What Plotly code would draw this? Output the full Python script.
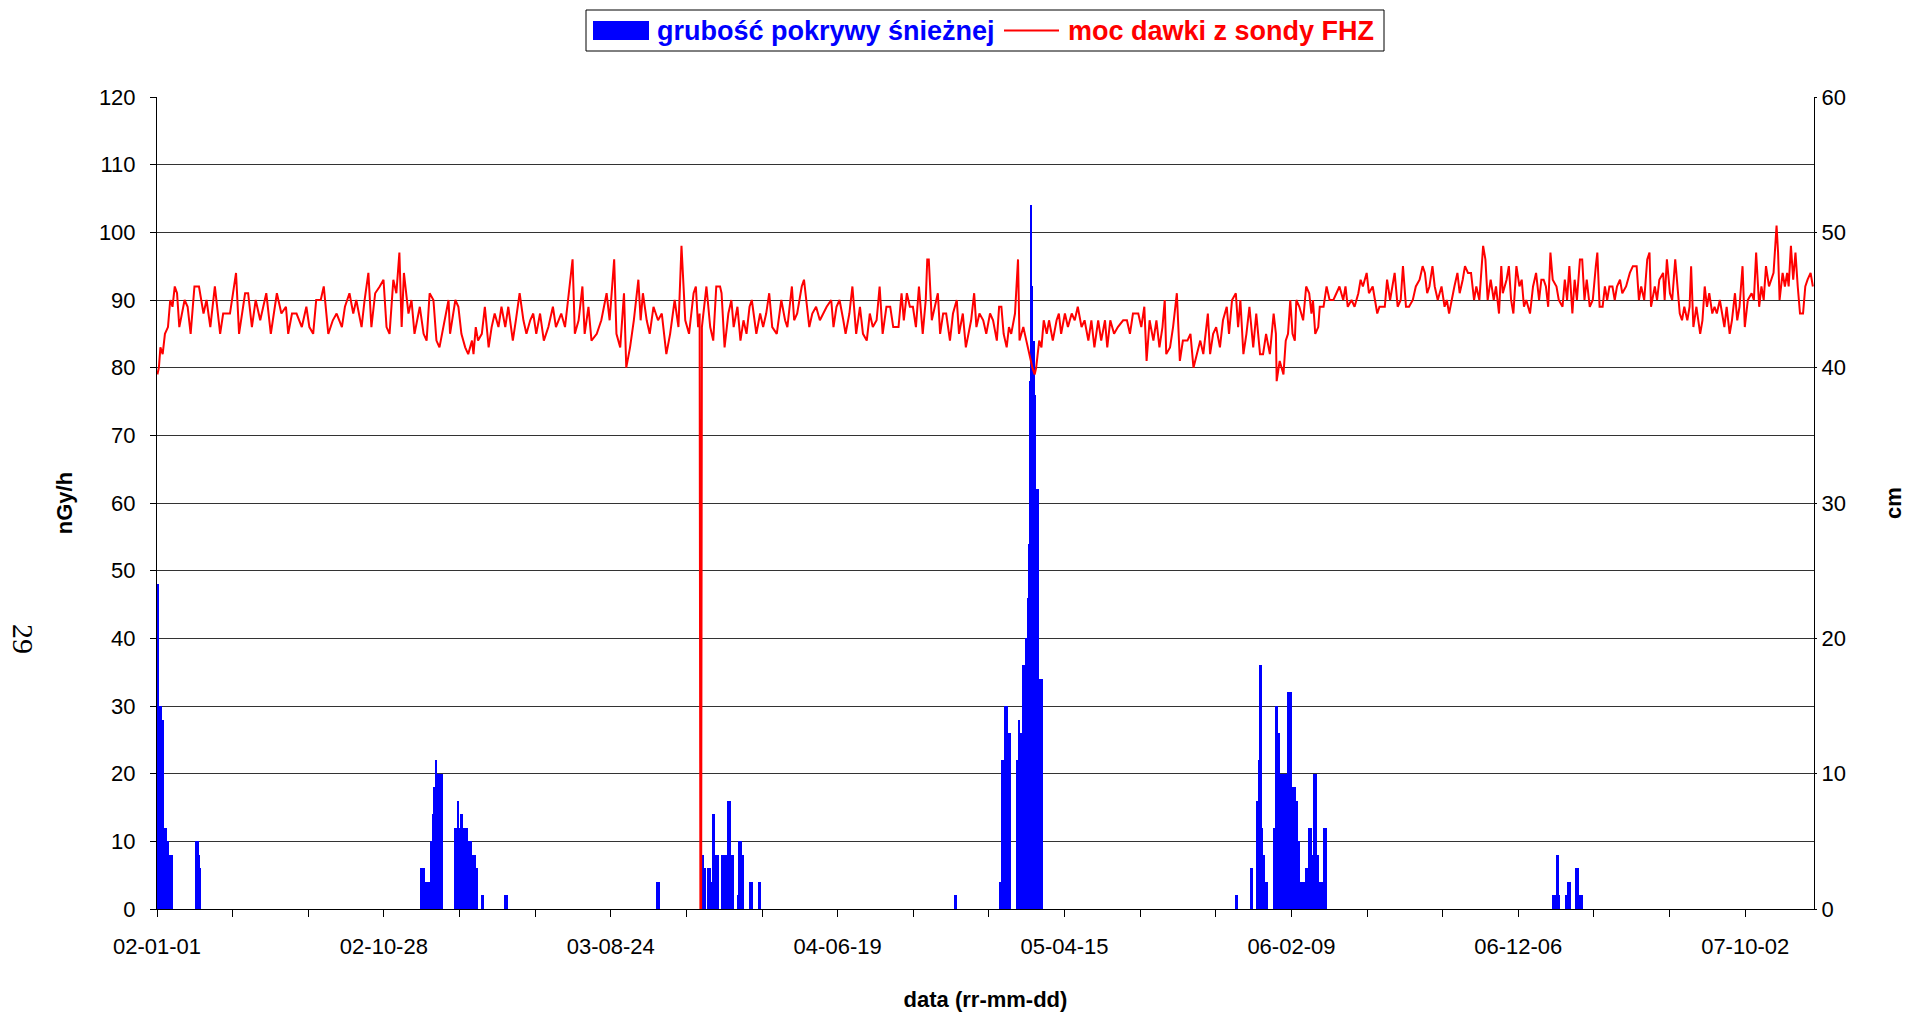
import pandas as pd
import plotly.graph_objects as go

START = pd.Timestamp("2002-01-01")

# dose rate from FHZ probe (nGy/h); days counted from 2002-01-01
dose_day = [
    0, 2, 4, 7, 10, 14, 17, 20, 23, 26, 29, 32, 36, 40, 44, 49, 55, 61, 65, 70, 76, 83, 87, 96, 100, 104, 108, 116, 120, 125,
    130, 136, 144, 150, 158, 164, 170, 173, 178, 184, 191, 197, 201, 206, 210, 216, 220, 226, 232, 237, 244, 248, 254, 259,
    263, 270, 274, 279, 283, 288, 294, 299, 303, 307, 312, 316, 320, 323, 326, 332, 336, 340, 347, 352, 356, 360, 365, 369, 373,
    380, 385, 387, 394, 398, 402, 407, 411, 416, 418, 421, 424, 429, 433, 438, 442, 446, 451, 455, 460, 464, 470, 474, 479,
    484, 488, 493, 497, 501, 506, 511, 517, 523, 527, 534, 539, 543, 549, 552, 557, 562, 565, 570, 574, 581, 587, 594, 598,
    604, 607, 612, 617, 620, 625, 630, 636, 639, 642, 647, 651, 656, 662, 667, 673, 678, 684, 689, 693, 698, 703, 709, 712,
    715, 717, 718, 719, 720, 726, 731, 735, 739, 744,
    746, 750, 755, 759, 762, 767, 771, 775, 779, 783, 786, 792, 797, 801, 805, 809, 813, 819, 825, 830, 833, 839, 842, 846,
    852, 855, 858, 862, 866, 871, 876, 880, 885, 891, 894, 898, 902, 907, 910, 915, 919, 924, 929, 933, 938, 942, 946, 951,
    955, 959, 964, 969, 973, 980, 984, 987, 991, 995, 999, 1003, 1007, 1012, 1016, 1018, 1020, 1024, 1028, 1032, 1035, 1039,
    1043, 1048, 1052, 1057, 1060, 1065, 1069, 1073, 1076, 1080, 1083, 1087, 1092, 1096, 1101, 1105, 1110, 1113,
    1116, 1119, 1123, 1126, 1129, 1134, 1138, 1140, 1145, 1149, 1153, 1157, 1160, 1162, 1166, 1169, 1172, 1176, 1179, 1184,
    1189, 1192, 1195, 1200, 1204, 1209, 1213, 1217, 1222, 1226, 1231, 1235, 1239, 1244, 1248, 1253, 1256, 1260, 1265, 1270,
    1277, 1282, 1286, 1290, 1297, 1301, 1305, 1308, 1312, 1317, 1321, 1325, 1329, 1332, 1334, 1339, 1343, 1348, 1352, 1356,
    1362, 1366, 1370, 1374, 1379, 1383, 1389, 1392, 1396, 1400, 1405, 1409, 1414, 1417, 1421, 1426, 1429, 1432, 1436, 1440,
    1444, 1449, 1453, 1458, 1462, 1466, 1471, 1476, 1479, 1480, 1484,
    1489, 1492, 1495, 1498, 1501, 1504, 1506, 1510, 1515, 1519, 1523, 1526, 1528, 1531, 1535, 1537, 1542, 1546, 1550, 1555,
    1559, 1563, 1568, 1571, 1574, 1579, 1583, 1588, 1591, 1594, 1599, 1602, 1607, 1610, 1613, 1616, 1623, 1626, 1630, 1633,
    1636, 1640, 1644, 1647, 1651, 1655, 1660, 1664, 1669, 1673, 1676, 1679, 1682, 1686, 1689, 1693, 1698, 1702, 1705, 1708,
    1711, 1715, 1719, 1722, 1726, 1729, 1733, 1737, 1741, 1744, 1748, 1751, 1753, 1756, 1759, 1763, 1767, 1770, 1774, 1777,
    1779, 1784, 1787, 1790, 1793, 1797, 1801, 1804, 1807, 1810, 1815, 1819, 1823, 1827, 1830, 1833, 1836, 1839, 1842, 1845,
    1850, 1853,
    1858, 1861, 1864, 1867, 1871, 1874, 1877, 1881, 1884, 1887, 1890, 1894, 1898, 1902, 1904, 1907, 1911, 1914, 1917, 1920,
    1924, 1927, 1930, 1934, 1937, 1942, 1947, 1951, 1956, 1959, 1962, 1966, 1970, 1973, 1975, 1980, 1983, 1986, 1991, 1993,
    1996, 2000, 2003, 2007, 2011, 2013, 2016, 2019, 2023, 2026, 2028, 2031, 2035, 2038, 2040, 2043, 2046, 2049, 2052, 2056,
    2059, 2062, 2066, 2069, 2072, 2075, 2079, 2082, 2086, 2089, 2092, 2096, 2099, 2103, 2108, 2111, 2114, 2118, 2121, 2124,
    2127, 2131, 2134, 2137, 2141, 2143, 2145, 2149, 2152, 2155, 2157, 2160, 2163, 2166, 2169, 2172, 2176, 2179, 2182, 2186, 2189,
]
dose_nGy = [
    79, 80, 83, 82, 85, 86, 90, 89, 92, 91, 86, 88, 90, 89, 85, 92, 92, 88, 90, 86, 92, 85, 88, 88, 91, 94, 85, 91, 91, 86,
    90, 87, 91, 85, 91, 88, 89, 85, 88, 88, 86, 89, 86, 85, 90, 90, 92, 85, 87, 88, 86, 89, 91, 88,
    90, 86, 90, 94, 86, 91, 92, 93, 86, 85, 93, 91, 97, 86, 94, 88, 90, 85, 89, 85, 84, 91, 90, 84, 83,
    87, 90, 85, 90, 89, 85, 83, 82, 84, 82, 86, 84, 85, 89, 83, 86, 88, 86, 89, 86, 89, 84, 87, 91,
    87, 85, 87, 88, 85, 88, 84, 86, 89, 86, 88, 86, 90, 96, 85, 87, 92, 85, 89, 84, 85, 87, 91, 87,
    96, 85, 83, 91, 80, 83, 87, 93, 87, 91, 87, 85, 89, 87, 88, 82, 85, 90, 86, 98, 87, 85, 91, 92,
    86, 88, 0, 0, 86, 92, 86, 84, 92, 92,
    91, 83, 88, 90, 86, 89, 84, 87, 85, 89, 90, 85, 88, 86, 88, 91, 86, 85, 90, 87, 86, 92, 87, 88,
    92, 93, 90, 86, 88, 89, 87, 88, 89, 90, 86, 89, 90, 87, 85, 88, 92, 85, 89, 85, 84, 88, 86, 87,
    92, 85, 89, 89, 86, 86, 91, 87, 91, 89, 89, 86, 92, 85, 90, 96, 96, 87, 89, 91, 85, 88,
    88, 84, 88, 90, 85, 88, 83, 85, 87, 91, 86, 88, 87, 85, 88, 87, 84, 89,
    89, 85, 83, 86, 85, 88, 96, 84, 86, 84, 82, 80, 79, 80, 84, 83, 87, 85, 87, 84,
    87, 88, 85, 88, 86, 88, 87, 89, 86, 87, 84, 87, 83, 87, 84, 87, 83, 87, 85, 86,
    87, 87, 85, 88, 88, 86, 89, 81, 87, 84, 87, 83, 86, 90, 82, 83, 86, 91, 81, 84,
    84, 85, 80, 82, 84, 82, 88, 82, 85, 86, 83, 87, 89, 85, 90, 91, 86, 90, 82, 85,
    89, 83, 88, 82, 82, 85, 82, 88, 85, 78, 81,
    79, 84, 85, 90, 85, 84, 90, 89, 87, 92, 91, 88, 90, 85, 86, 89, 89, 92, 90, 90,
    91, 92, 90, 92, 89, 90, 89, 91, 93, 92, 94, 91, 92, 90, 88, 89, 89, 93, 90, 92,
    94, 89, 90, 95, 89, 89, 90, 92, 93, 95, 94, 91, 92, 95, 92, 90, 92, 89, 90, 88,
    90, 92, 94, 91, 93, 95, 94, 94, 90, 92, 90, 95, 98, 96, 90, 93, 90, 92, 88, 95,
    91, 93, 95, 90, 88, 95, 92, 93, 89, 90, 88, 92, 94, 90, 93, 93, 92, 89, 97, 93,
    92, 90,
    89, 93, 90, 95, 88, 93, 90, 96, 96, 90, 93, 89, 90, 95, 97, 89, 89, 92, 90, 92,
    92, 90, 92, 93, 91, 92, 94, 95, 95, 90, 92, 90, 96, 97, 89, 92, 90, 93, 94, 90,
    96, 91, 90, 96, 90, 88, 87, 89, 87, 89, 95, 86, 89, 86, 85, 87, 92, 89, 91, 88,
    89, 88, 90, 88, 86, 89, 85, 87, 91, 87, 89, 95, 86, 90, 91, 90, 97, 89, 92, 90,
    95, 92, 93, 94, 101, 97, 90, 94, 92, 94, 92, 98, 93, 97, 92, 88, 88, 92, 93, 94, 92,
]

# snow cover thickness (cm): runs of days [from, to] with constant depth
snow_from = [0, 2, 6, 8, 9, 12, 15, 51, 55, 56, 57,
             349, 354, 362, 364, 366, 368, 370, 393, 394, 397, 399, 401, 404, 411, 416, 421, 429, 460,
             660, 719, 722, 728, 732, 734, 737, 746, 755, 758, 767, 769, 773, 784, 795,
             1054, 1114, 1117, 1120, 1125, 1137, 1139, 1141, 1145, 1148, 1151, 1153, 1154, 1155, 1156, 1158,
             1160, 1162, 1163, 1165, 1166,
             1426, 1446, 1454, 1457, 1458, 1461, 1462, 1464, 1476, 1479, 1482, 1484, 1495, 1500, 1505, 1508,
             1511, 1515, 1519, 1523, 1526, 1529, 1533, 1536, 1541, 1543,
             1845, 1850, 1853, 1862, 1865, 1875, 1880]
snow_to = [1, 5, 7, 8, 11, 14, 20, 54, 55, 56, 57,
           353, 361, 363, 365, 367, 369, 377, 393, 396, 398, 400, 403, 410, 415, 420, 423, 431, 462,
           663, 721, 724, 731, 733, 736, 741, 754, 757, 761, 768, 772, 774, 786, 797,
           1056, 1116, 1119, 1124, 1127, 1138, 1140, 1144, 1147, 1150, 1152, 1153, 1154, 1155, 1157, 1159,
           1161, 1162, 1164, 1165, 1170,
           1428, 1448, 1456, 1457, 1460, 1461, 1463, 1467, 1478, 1481, 1483, 1494, 1499, 1504, 1507, 1510,
           1512, 1518, 1522, 1525, 1528, 1532, 1535, 1540, 1542, 1545,
           1849, 1852, 1853, 1864, 1868, 1879, 1884]
snow_cm = [24, 15, 14, 7, 6, 5, 4, 5, 4, 3, 2,
           3, 2, 5, 7, 9, 11, 10, 2, 6, 8, 6, 7, 6, 5, 4, 3, 1, 1,
           2, 4, 3, 3, 2, 7, 4, 4, 8, 4, 1, 5, 4, 2, 2,
           1, 2, 11, 15, 13, 11, 14, 13, 18, 20, 23, 27, 39, 52, 46, 42,
           38, 26, 31, 19, 17,
           1, 3, 8, 11, 18, 6, 4, 2, 6, 15, 13, 10, 16, 9, 8, 5,
           2, 2, 3, 6, 4, 10, 4, 2, 1, 6,
           1, 4, 1, 1, 2, 3, 1]

tick_labels = ["02-01-01", "02-10-28", "03-08-24", "04-06-19",
               "05-04-15", "06-02-09", "06-12-06", "07-10-02"]

series_names = ["grubość pokrywy śnieżnej", "moc dawki z sondy FHZ"]
series_colors = ["#0000FF", "#FF0000"]

DAY = pd.Timedelta(days=1)
HALF = pd.Timedelta(hours=12)

dose_x = [START + d * DAY + HALF for d in dose_day]

snow_x, snow_y = [], []
for f, t, c in zip(snow_from, snow_to, snow_cm):
    for d in range(f, t + 1):
        snow_x.append(START + d * DAY + HALF)
        snow_y.append(c)

tick_vals = [pd.Timestamp("20" + s) for s in tick_labels]

FONT = "Arial, 'Liberation Sans', sans-serif"

# plot area in pixels (for placing the page decorations in paper coords)
W, H = 1908, 1013
ML, MR, MT, MB = 157, 94, 97, 104
PW, PH = W - ML - MR, H - MT - MB


def px(x):
    return (x - ML) / PW


def py(y):
    return (H - MB - y) / PH


fig = go.Figure()
fig.add_trace(go.Bar(
    x=snow_x, y=snow_y, yaxis="y",
    width=86400000, marker=dict(color=series_colors[0], line=dict(width=0)),
    name=series_names[0], showlegend=False,
))
fig.add_trace(go.Scatter(
    x=dose_x, y=dose_nGy, yaxis="y2", mode="lines",
    line=dict(color=series_colors[1], width=2),
    name=series_names[1], showlegend=False,
))

# legend box drawn like the original (wide swatch for the bars)
shapes = [
    dict(type="rect", xref="paper", yref="paper", x0=px(586), x1=px(1384), y0=py(51), y1=py(10),
         line=dict(color="black", width=1), fillcolor="white", layer="above"),
    dict(type="rect", xref="paper", yref="paper", x0=px(593), x1=px(649), y0=py(40), y1=py(21),
         line=dict(width=0), fillcolor=series_colors[0], layer="above"),
    dict(type="line", xref="paper", yref="paper", x0=px(1004), x1=px(1059), y0=py(30.5), y1=py(30.5),
         line=dict(color=series_colors[1], width=2), layer="above"),
]
annotations = [
    dict(text="<b>" + series_names[0] + "</b>", xref="paper", yref="paper",
         x=px(655), y=py(30.5), xanchor="left", yanchor="middle", showarrow=False,
         font=dict(family=FONT, size=27, color=series_colors[0])),
    dict(text="<b>" + series_names[1] + "</b>", xref="paper", yref="paper",
         x=px(1066), y=py(30.5), xanchor="left", yanchor="middle", showarrow=False,
         font=dict(family=FONT, size=27, color=series_colors[1])),
    dict(text="29", xref="paper", yref="paper", x=px(24), y=py(639),
         xanchor="center", yanchor="middle", showarrow=False, textangle=90,
         font=dict(family="'Times New Roman', 'Liberation Serif', serif", size=30, color="black")),
]

fig.update_layout(
    width=W, height=H,
    margin=dict(l=ML, r=MR, t=MT, b=MB, autoexpand=False),
    paper_bgcolor="white", plot_bgcolor="white",
    font=dict(family=FONT, size=22, color="black"),
    bargap=0,
    showlegend=False,
    xaxis=dict(
        type="date", automargin=False,
        range=[START, START + 2191 * DAY],
        tickmode="array", tickvals=tick_vals, ticktext=tick_labels,
        ticks="outside", ticklen=7, tickcolor="black", tickwidth=1, ticklabelstandoff=11,
        minor=dict(tickmode="linear", tick0=START, dtick=100 * 86400000,
                   ticks="outside", ticklen=7, tickcolor="black", showgrid=False),
        showline=True, linecolor="black", linewidth=1,
        showgrid=False, zeroline=False,
        tickfont=dict(size=22),
        title=dict(text="<b>data (rr-mm-dd)</b>", font=dict(size=22), standoff=33),
    ),
    yaxis=dict(
        side="right", range=[0, 60], tickmode="linear", tick0=0, dtick=10, automargin=False,
        showgrid=False, zeroline=False,
        showline=True, linecolor="black", linewidth=1,
        ticks="outside", ticklen=2, tickcolor="black",
        tickfont=dict(size=22),
        title=dict(text="<b>cm</b>", font=dict(size=22), standoff=40),
    ),
    yaxis2=dict(
        overlaying="y", side="left", range=[0, 120], tickmode="linear", tick0=0, dtick=10,
        automargin=False,
        showgrid=True, gridcolor="#333333", gridwidth=1, zeroline=False,
        showline=True, linecolor="black", linewidth=1,
        ticks="outside", ticklen=6, tickcolor="black", ticklabelstandoff=10,
        tickfont=dict(size=22),
        title=dict(text="<b>nGy/h</b>", font=dict(size=22), standoff=20),
    ),
    shapes=shapes,
    annotations=annotations,
)

# the page is shot edge to edge: drop the browser's default body margin
fig.write_html("out.html", config={"displayModeBar": False},
               post_script="document.body.style.margin='0';")
